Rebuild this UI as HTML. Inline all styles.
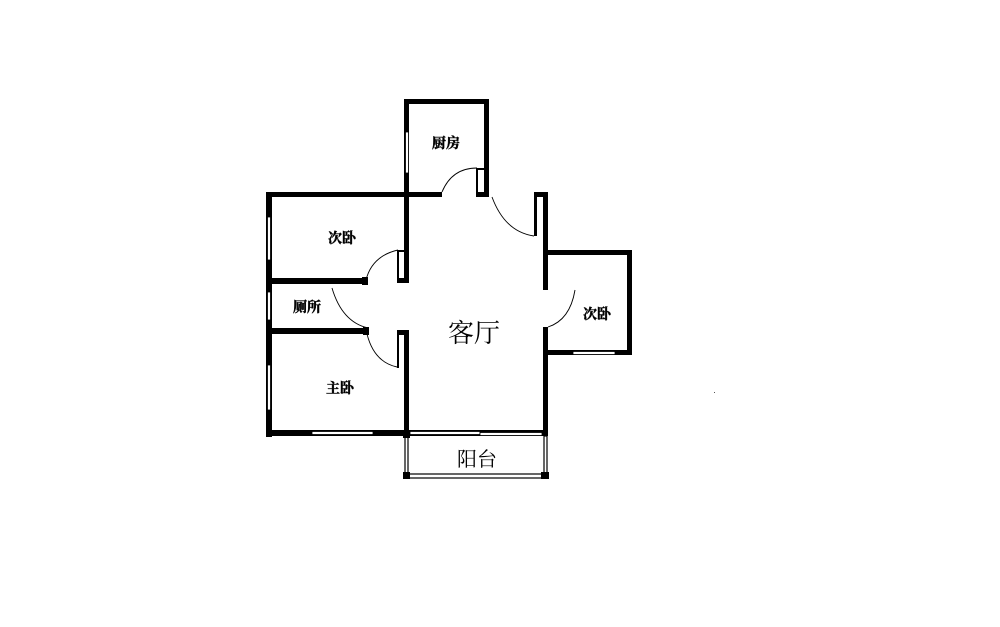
<!DOCTYPE html>
<html><head><meta charset="utf-8"><style>
html,body{margin:0;padding:0;background:#fff;}
svg{display:block}
text{font-family:"Liberation Serif","Noto Serif CJK SC",serif;fill:#000}
</style></head><body>
<svg width="1000" height="627" viewBox="0 0 1000 627" xmlns="http://www.w3.org/2000/svg">
<rect width="1000" height="627" fill="#fff"/>
<g fill="#000">
<!-- kitchen -->
<rect x="404" y="99" width="85" height="5"/>
<rect x="404" y="99" width="5" height="98"/>
<rect x="484" y="99" width="5" height="98"/>
<rect x="476" y="168" width="2" height="29"/>
<rect x="476" y="168" width="8" height="2"/>
<rect x="476" y="192" width="8" height="5"/>
<!-- top wall left bedroom -->
<rect x="266" y="192" width="176" height="5"/>
<!-- left outer wall -->
<rect x="266" y="192" width="6" height="245"/>
<!-- inner vertical wall -->
<rect x="404" y="192" width="5" height="91"/>
<rect x="397" y="250" width="2" height="33"/>
<rect x="397" y="250" width="7" height="2"/>
<rect x="397" y="278" width="8" height="5"/>
<rect x="404" y="330" width="5" height="106"/>
<rect x="397" y="330" width="2" height="38"/>
<rect x="397" y="330" width="8" height="5"/>
<!-- closet walls -->
<rect x="272" y="278" width="95" height="6"/>
<rect x="362" y="277" width="6" height="8"/>
<rect x="272" y="328" width="97" height="6"/>
<rect x="363" y="327" width="6" height="8"/>
<!-- right living wall -->
<rect x="534" y="192" width="13" height="5"/>
<rect x="534" y="192" width="3" height="44"/>
<rect x="543" y="192" width="5" height="98"/>
<rect x="543" y="327" width="5" height="109"/>
<!-- right bedroom -->
<rect x="547" y="250" width="85" height="5"/>
<rect x="627" y="250" width="5" height="105"/>
<rect x="547" y="350" width="85" height="5"/>
<!-- bottom wall -->
<rect x="266" y="430" width="282" height="6"/>
<!-- balcony corners -->
<rect x="403" y="430" width="7" height="8"/>
<rect x="403" y="472" width="7" height="7"/>
<rect x="541" y="472" width="8" height="7"/>
</g>
<!-- windows -->
<g fill="#fff" stroke="#000" stroke-width="0.8">
<rect x="267.5" y="217" width="3" height="43"/>
<rect x="267.5" y="292" width="3" height="28"/>
<rect x="267.5" y="365" width="3" height="45"/>
<rect x="405.5" y="132" width="3" height="41"/>
<rect x="573" y="351.5" width="42" height="3"/>
<rect x="312" y="431.5" width="61" height="3"/>
<rect x="410" y="431.5" width="70" height="3"/>
<rect x="480" y="432.5" width="62" height="3"/>
</g>
<!-- balcony frame -->
<g fill="none" stroke="#000" stroke-width="1.2">
<rect x="405" y="436" width="3" height="38"/>
<rect x="544" y="436" width="3" height="38"/>
<rect x="408" y="474" width="136" height="4"/>
</g>
<!-- doors arcs -->
<g fill="none" stroke="#000" stroke-width="0.9">
<path d="M442 192 Q452 168 477 168"/>
<path d="M492 197 Q505 232 534 236"/>
<path d="M398 250 Q372 256 366 280"/>
<path d="M332 288 Q342 322 368 328"/>
<path d="M367 334 Q374 362 397 367"/>
<path d="M575 290 Q570 320 548 327"/>
</g>
<rect x="714" y="392" width="1" height="1" fill="#555"/>
<!-- labels -->
<g font-size="14" font-weight="bold" text-anchor="middle" stroke="#000" stroke-width="0.4">
<text x="446" y="148">厨房</text>
<text x="342" y="243">次卧</text>
<text x="307" y="312">厕所</text>
<text x="340" y="393">主卧</text>
<text x="597" y="319">次卧</text>
</g>
<text x="474" y="342" font-size="26" text-anchor="middle">客厅</text>
<text x="477" y="466" font-size="20" text-anchor="middle">阳台</text>
</svg>
</body></html>
